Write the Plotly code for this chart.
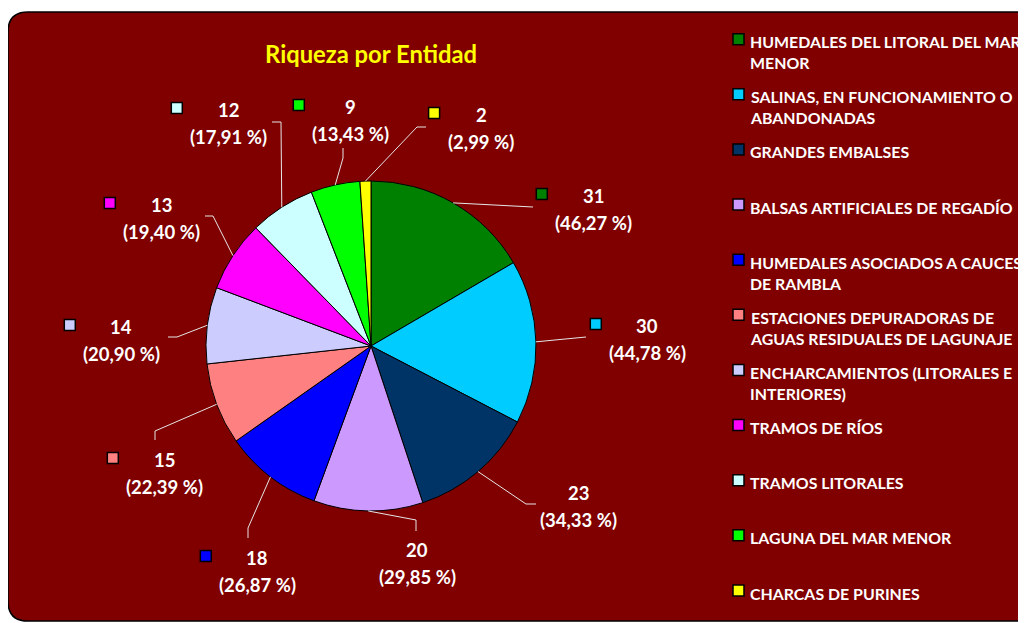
import math
import plotly.graph_objects as go

# Data
entidades = [
    "HUMEDALES DEL LITORAL DEL MAR<br>MENOR",
    "SALINAS, EN FUNCIONAMIENTO O<br>ABANDONADAS",
    "GRANDES EMBALSES",
    "BALSAS ARTIFICIALES DE REGADÍO",
    "HUMEDALES ASOCIADOS A CAUCES<br>DE RAMBLA",
    "ESTACIONES DEPURADORAS DE<br>AGUAS RESIDUALES DE LAGUNAJE",
    "ENCHARCAMIENTOS (LITORALES E<br>INTERIORES)",
    "TRAMOS DE RÍOS",
    "TRAMOS LITORALES",
    "LAGUNA DEL MAR MENOR",
    "CHARCAS DE PURINES",
]
riqueza = [31, 30, 23, 20, 18, 15, 14, 13, 12, 9, 2]
total_especies = 67

colores = [
    "#008000", "#00CCFF", "#003366", "#CC99FF", "#0000FF", "#FF8080",
    "#CCCCFF", "#FF00FF", "#CCFFFF", "#00FF00", "#FFFF00",
]

# Layout, in page pixels; the page body has an 8px margin
OFF = 8
W, H = 1026 - OFF, 623 - OFF
CX, CY, R = 371, 346, 165
FONT = "Lato"

# data-label anchor (centre of the value line), leader bend points, key shown
label_pos = [(593, 196), (647, 326), (578, 493), (417, 550), (257, 558),
             (164, 460), (121, 327), (161, 205), (228, 110), (350, 107), (481, 115)]
leader_pts = [
    [(533, 207)],
    [(586, 337)],
    [(526, 504), (536, 504)],
    [(416, 520), (416, 531)],
    [(248, 528), (248, 538)],
    [(155, 431), (155, 440)],
    [(177, 337), (168, 337)],
    [(213, 216), (205, 216)],
    [(281, 122), (272, 122)],
    [(343, 158), (343, 148)],
    [(417, 127), (426, 127)],
]
show_key = [True, True, False, False, True, True, True, True, True, True, True]


def px(x):
    return (x - OFF) / W


def py(y):
    return 1 - (y - OFF) / H


fig = go.Figure()

fig.add_trace(
    go.Pie(
        labels=[e.replace("<br>", " ") for e in entidades],
        values=riqueza,
        sort=False,
        direction="clockwise",
        rotation=0,
        marker=dict(colors=colores, line=dict(color="black", width=1)),
        textinfo="none",
        showlegend=False,
        domain=dict(x=[px(CX - R), px(CX + R)], y=[py(CY + R), py(CY - R)]),
        hovertemplate="%{label}: %{value}<extra></extra>",
    )
)

shapes = []
annotations = []

# rounded background panel
x0, y0, x1, y1, rr = 8, 12, 1045, 621, 20
path = (
    f"M {px(x0 + rr)} {py(y0)} L {px(x1)} {py(y0)} L {px(x1)} {py(y1)} "
    f"L {px(x0 + rr)} {py(y1)} Q {px(x0)} {py(y1)} {px(x0)} {py(y1 - rr)} "
    f"L {px(x0)} {py(y0 + rr)} Q {px(x0)} {py(y0)} {px(x0 + rr)} {py(y0)} Z"
)
shapes.append(dict(type="path", path=path, xref="paper", yref="paper",
                   fillcolor="#800000", line=dict(color="black", width=1.5),
                   layer="below"))

# data labels with leader lines
total = sum(riqueza)
cum = 0
for i, v in enumerate(riqueza):
    mid = (cum + v / 2) / total * 2 * math.pi
    cum += v
    ex, ey = CX + R * math.sin(mid), CY - R * math.cos(mid)
    pts = [(ex, ey)] + leader_pts[i]
    p = "M " + " L ".join(f"{px(a)} {py(b)}" for a, b in pts)
    shapes.append(dict(type="path", path=p, xref="paper", yref="paper",
                       line=dict(color="#E6E6E6", width=1)))

    lx, ly = label_pos[i]
    pct = f"({v / total_especies * 100:.2f} %)".replace(".", ",")
    annotations.append(dict(x=px(lx), y=py(ly), xref="paper", yref="paper",
                            text=f"<b>{v}</b>", showarrow=False,
                            xanchor="center", yanchor="middle",
                            font=dict(family=FONT, size=18.5, color="white")))
    annotations.append(dict(x=px(lx), y=py(ly + 27), xref="paper", yref="paper",
                            text=f"<b>{pct}</b>", showarrow=False,
                            xanchor="center", yanchor="middle",
                            font=dict(family=FONT, size=18.5, color="white")))
    if show_key[i]:
        kx = lx - 12.5 - 4.3 * len(pct)
        ky = ly - 2
        shapes.append(dict(type="rect", xref="paper", yref="paper",
                           x0=px(kx - 5.5), x1=px(kx + 5.5),
                           y0=py(ky + 5.5), y1=py(ky - 5.5),
                           fillcolor=colores[i], line=dict(color="black", width=1.5)))

# legend drawn by hand to keep Excel-like spacing
for i, name in enumerate(entidades):
    ly = 41.2 + 55.13 * i
    shapes.append(dict(type="rect", xref="paper", yref="paper",
                       x0=px(733), x1=px(744), y0=py(ly + 3.5), y1=py(ly - 7.5),
                       fillcolor=colores[i], line=dict(color="black", width=1.5)))
    annotations.append(dict(x=px(748), y=py(ly - 11), xref="paper", yref="paper",
                            text=f"<b>{name}</b>", showarrow=False,
                            xanchor="left", yanchor="top", align="left",
                            font=dict(family=FONT, size=15.9, color="white")))

annotations.append(dict(x=px(371), y=py(54), xref="paper", yref="paper",
                        text="<b>Riqueza por Entidad</b>", showarrow=False,
                        xanchor="center", yanchor="middle",
                        font=dict(family=FONT, size=23.8, color="#FFFF00")))

fig.update_layout(
    width=W,
    height=H,
    margin=dict(l=0, r=0, t=0, b=0),
    paper_bgcolor="white",
    plot_bgcolor="rgba(0,0,0,0)",
    shapes=shapes,
    annotations=annotations,
    showlegend=False,
)

fig.write_html("out.html")
